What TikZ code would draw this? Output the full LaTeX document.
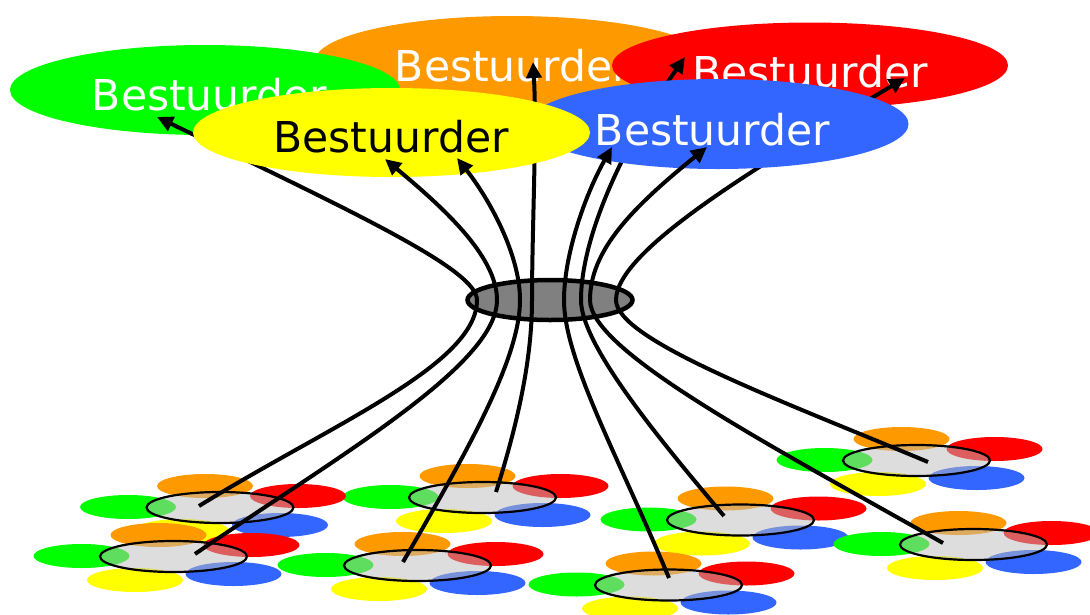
\documentclass[tikz,border=0pt]{standalone}
\usepackage{fontspec}
\setmainfont{DejaVu Sans}
\usetikzlibrary{arrows.meta,shapes.geometric}
\definecolor{cgreen}{HTML}{00FF00}
\definecolor{corange}{HTML}{FF9900}
\definecolor{cred}{HTML}{FF0000}
\definecolor{cblue}{HTML}{3366FF}
\definecolor{cyellow}{HTML}{FFFF00}
\definecolor{hubgray}{HTML}{808080}
\definecolor{clgray}{HTML}{BCBCBC}
\tikzset{
  topell/.style={ellipse, inner sep=0pt, draw=none},
  lbl/.style={anchor=base, inner sep=0pt, font=\fontsize{42.5}{50}\selectfont},
  dotell/.style={ellipse, inner sep=0pt, minimum width=96pt, minimum height=24pt, draw=none},
  clus/.style={ellipse, inner sep=0pt, minimum width=147pt, minimum height=31pt, draw=black, line width=2.2pt, fill=clgray, fill opacity=0.5},
  hubell/.style={ellipse, inner sep=0pt, minimum width=165pt, minimum height=40pt, fill=hubgray, draw=black, line width=4.5pt},
  wire/.style={line width=4pt, draw=black},
  arr/.style={wire, -{Triangle[length=16pt,width=15pt]}}
}
\begin{document}
\begin{tikzpicture}[x=1pt,y=-1pt]
\useasboundingbox (0,0) rectangle (1090,614);
% bottom clusters
\foreach \n/\cx/\cy in {5/916.5/460.5, 3/482.5/497.5, 1/220/507.5, 7/740.5/520, 6/973.5/544.5, 2/173.5/556.5, 4/417.5/565.5, 8/668.5/585} {
  \node[dotell, fill=corange] (o\n) at (\cx-15,\cy-21.5) {};
  \node[dotell, fill=cred] (r\n) at (\cx+78,\cy-11.5) {};
  \node[dotell, fill=cblue] (b\n) at (\cx+60,\cy+17.5) {};
  \node[dotell, fill=cyellow] (y\n) at (\cx-38.5,\cy+23.5) {};
  \node[dotell, fill=cgreen] (g\n) at (\cx-92,\cy-0.5) {};
  \node[clus] (c\n) at (\cx,\cy) {};
}
% hub
\node[hubell] (hub) at (550,300) {};
% end points in clusters
\coordinate (e1) at (199,506);
\coordinate (e2) at (195,554);
\coordinate (e3) at (496,492);
\coordinate (e4) at (403,562);
\coordinate (e5) at (928,462);
\coordinate (e6) at (943,543);
\coordinate (e7) at (724,516);
\coordinate (e8) at (669,578);
% pass points in hub
\coordinate (hA) at (477,300);
\coordinate (hB) at (497,300);
\coordinate (hC) at (520,300);
\coordinate (hD) at (532,300);
\coordinate (hE) at (564,300);
\coordinate (hF) at (581,300);
\coordinate (hG) at (590,300);
\coordinate (hH) at (616,300);
% back top ellipses
\node[topell, fill=corange, minimum width=394pt, minimum height=90pt] (orange) at (512,61) {};
\node[lbl, text=white] (orangeT) at (512.5,81) {Bestuurder};
\node[topell, fill=cgreen, minimum width=390pt, minimum height=90pt] (green) at (205,90) {};
\node[lbl, text=white] (greenT) at (209.5,110) {Bestuurder};
\node[topell, fill=cred, minimum width=396pt, minimum height=86pt] (red) at (810,65.5) {};
\node[lbl, text=white] (redT) at (810,87) {Bestuurder};
% tips
\coordinate (tA) at (157,117);
\coordinate (tB) at (385,159);
\coordinate (tC) at (457,158);
\coordinate (tD) at (533,62);
\coordinate (tE) at (612,147);
\coordinate (tF) at (685,57);
\coordinate (tG) at (707,147);
\coordinate (tH) at (905,78);
% connectors to back ellipses
\draw[arr] (e1) .. controls (330,425) and (477,365) .. (hA) .. controls (477,270) and (360,215) .. (tA);
\draw[arr] (e3) .. controls (522,410) and (532,350) .. (hD) .. controls (532,230) and (537,130) .. (tD);
\draw[arr] (e7) .. controls (660,440) and (581,345) .. (hF) .. controls (581,240) and (620,150) .. (tF);
\draw[arr] (e5) .. controls (780,400) and (616,340) .. (hH) .. controls (616,250) and (760,165) .. (tH);
% front top ellipses
\node[topell, fill=cblue, minimum width=381pt, minimum height=90pt] (blue) at (718,124) {};
\node[lbl, text=white] (blueT) at (712.5,145) {Bestuurder};
\node[topell, fill=cyellow, minimum width=397pt, minimum height=89pt] (yellow) at (391.5,132.5) {};
\node[lbl, text=black] (yellowT) at (391,152) {Bestuurder};
% connectors to front ellipses
\draw[arr] (e2) .. controls (340,455) and (497,365) .. (hB) .. controls (497,255) and (440,205) .. (tB);
\draw[arr] (e4) .. controls (465,455) and (520,360) .. (hC) .. controls (520,255) and (490,200) .. (tC);
\draw[arr] (e8) .. controls (620,460) and (564,360) .. (hE) .. controls (564,255) and (585,195) .. (tE);
\draw[arr] (e6) .. controls (760,440) and (590,350) .. (hG) .. controls (590,250) and (633,207) .. (tG);
\end{tikzpicture}
\end{document}
